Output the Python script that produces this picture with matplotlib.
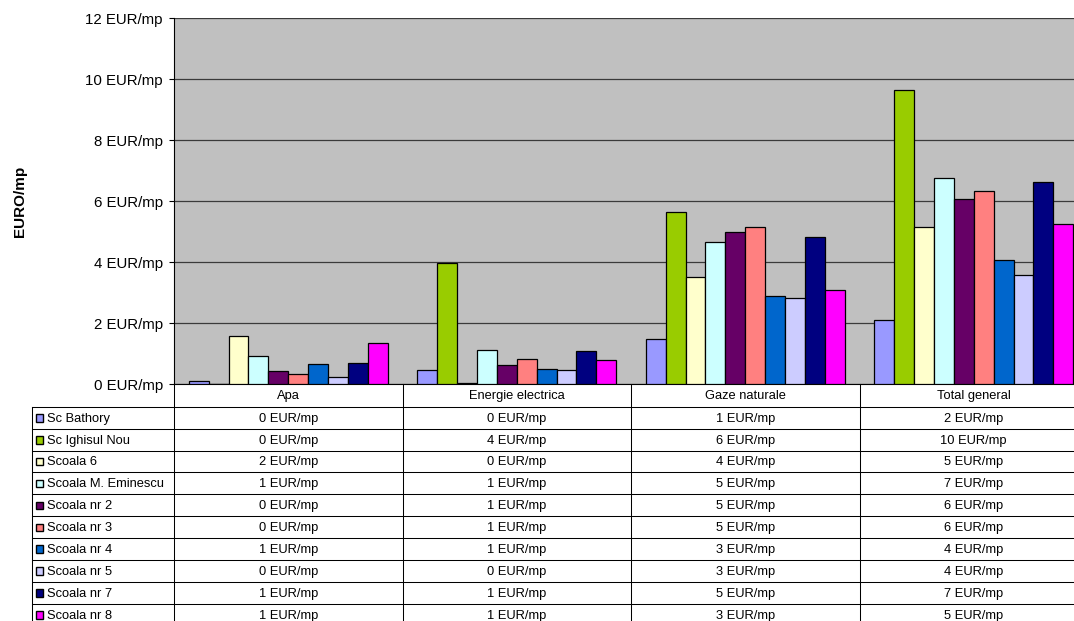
import matplotlib
matplotlib.use('Agg')
from matplotlib import pyplot as plt
from matplotlib.ticker import FuncFormatter
import numpy as np

plt.rcParams['font.family'] = ['Liberation Sans', 'DejaVu Sans']

categories = ['Apa', 'Energie electrica', 'Gaze naturale', 'Total general']
schools = ['Sc Bathory', 'Sc Ighisul Nou', 'Scoala 6', 'Scoala M. Eminescu',
           'Scoala nr 2', 'Scoala nr 3', 'Scoala nr 4', 'Scoala nr 5',
           'Scoala nr 7', 'Scoala nr 8']

# EUR/mp per school, one list per category (same order as schools)
apa = [0.12, 0.0, 1.57, 0.92, 0.45, 0.33, 0.65, 0.25, 0.69, 1.34]
energie = [0.48, 3.97, 0.05, 1.14, 0.64, 0.83, 0.51, 0.48, 1.10, 0.80]
gaze = [1.48, 5.66, 3.52, 4.68, 4.98, 5.17, 2.89, 2.83, 4.83, 3.10]
total = [2.10, 9.66, 5.17, 6.75, 6.09, 6.35, 4.07, 3.59, 6.64, 5.25]

colors = ['#9999FF', '#99CC00', '#FFFFCC', '#CCFFFF', '#660066',
          '#FF8080', '#0066CC', '#CCCCFF', '#000080', '#FF00FF']

W, H = 1074, 621
left, top, bottom = 174, 18.3, 384.3
col_w = 228.5
row_h = 21.9
header_bottom = 406.7
table_left = 32.3

fig = plt.figure(figsize=(W / 100, H / 100), dpi=100)
ax = fig.add_axes([left / W, 1 - bottom / H, 4 * col_w / W, (bottom - top) / H])
ax.set_facecolor('#C0C0C0')

values = np.array([apa, energie, gaze, total])  # category x school
n = len(schools)
bw = 0.0871
start = (1 - n * bw) / 2
x = np.arange(len(categories))
for j in range(n):
    ax.bar(x + start + j * bw, values[:, j], width=bw, align='edge',
           color=colors[j], edgecolor='black', linewidth=0.9, zorder=3)

ax.set_xlim(0, 4)
ax.set_ylim(0, 12)
ax.set_yticks(np.arange(0, 13, 2))
ax.yaxis.set_major_formatter(FuncFormatter(lambda v, p: '%d EUR/mp' % v))
ax.tick_params(axis='y', direction='out', length=3.4, width=0.8,
               labelsize=10.8, pad=4.7)
ax.set_xticks([])
ax.yaxis.grid(True, color='#3a3a3a', linewidth=0.9, zorder=1)
ax.set_axisbelow(True)
for s in ['top', 'right']:
    ax.spines[s].set_visible(False)
ax.spines['left'].set_linewidth(0.8)
ax.spines['bottom'].set_linewidth(0.8)

fig.text(20 / W, 1 - 201 / H, 'EURO/mp', rotation=90, fontsize=11,
         fontweight='bold', ha='center', va='center')

# data table under the plot, drawn in pixel coordinates
tb = fig.add_axes([0, 0, 1, 1], zorder=5)
tb.set_xlim(0, W)
tb.set_ylim(H, 0)
tb.axis('off')
lw = 0.75
right = left + 4 * col_w
n_rows = len(schools)
table_bottom = header_bottom + n_rows * row_h

for i in range(5):
    xc = left + i * col_w
    tb.plot([xc, xc], [bottom, table_bottom], color='black', lw=lw)
tb.plot([table_left, table_left], [header_bottom, table_bottom], color='black', lw=lw)
for k in range(n_rows + 1):
    yk = header_bottom + k * row_h
    tb.plot([table_left, right], [yk, yk], color='black', lw=lw)

for i, cat in enumerate(categories):
    tb.text(left + (i + 0.5) * col_w, (bottom + header_bottom) / 2 + 3.9, cat,
            ha='center', va='baseline', fontsize=9.3)

for k, name in enumerate(schools):
    yc = header_bottom + (k + 0.5) * row_h
    tb.add_patch(plt.Rectangle((35.7, yc - 3.6), 7.6, 7.6,
                               facecolor=colors[k], edgecolor='black', lw=1.0))
    tb.text(47.3, yc + 4.0, name, ha='left', va='baseline', fontsize=9.3)
    for i in range(len(categories)):
        v = int(values[i, k] + 0.5)
        tb.text(left + (i + 0.5) * col_w, yc + 4.0, '%d EUR/mp' % v,
                ha='center', va='baseline', fontsize=9.3)

fig.savefig('out.png', dpi=100)
